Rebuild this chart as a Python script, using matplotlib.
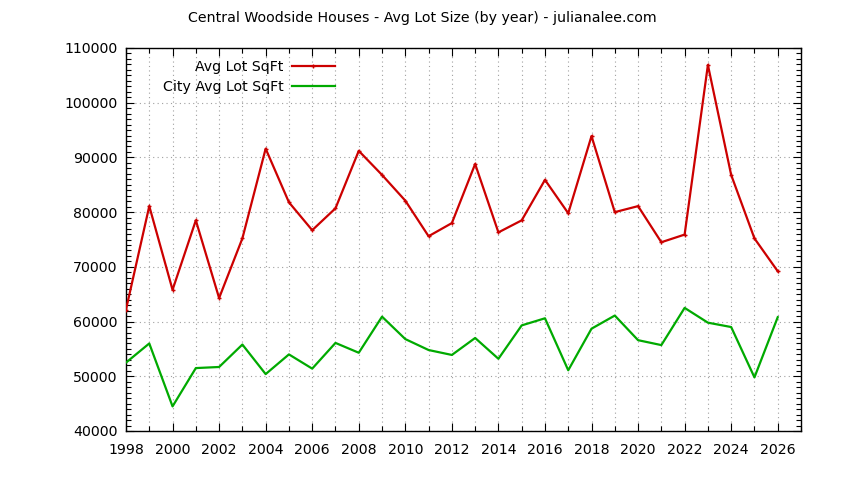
import matplotlib
matplotlib.use("Agg")
import matplotlib.pyplot as plt
from matplotlib.ticker import MultipleLocator

years = list(range(1998, 2027))
avg_lot = [62200, 81100, 65800, 78500, 64300, 75200, 91600, 81800, 76700, 80700,
           91200, 86800, 82100, 75600, 78000, 88800, 76300, 78500, 85900, 79800,
           93900, 80000, 81100, 74500, 75900, 106900, 86800, 75200, 69200]
city_avg = [52500, 56000, 44500, 51500, 51700, 55800, 50400, 54000, 51400, 56100,
            54300, 60900, 56800, 54800, 53900, 57000, 53200, 59300, 60600, 51100,
            58700, 61100, 56600, 55700, 62500, 59800, 59000, 49800, 60800]
title = "Central Woodside Houses - Avg Lot Size (by year) - julianalee.com"

plt.rcParams['font.family'] = ['DejaVu Sans']
fs = 10.2
fig = plt.figure(figsize=(8.44, 4.8), dpi=100)
ax = fig.add_axes([126/844, 1-431/480, (801-126)/844, (431-48)/480])

red = '#cc0000'
green = '#00aa00'
l1, = ax.plot(years, avg_lot, color=red, lw=1.6, marker='+', ms=3, mew=1.0,
              label='Avg Lot SqFt', zorder=3)
l2, = ax.plot(years, city_avg, color=green, lw=1.6, label='City Avg Lot SqFt', zorder=3)

ax.set_xlim(1998, 2027)
ax.set_ylim(40000, 110000)
ax.xaxis.set_major_locator(MultipleLocator(2))
ax.xaxis.set_minor_locator(MultipleLocator(1))
ax.yaxis.set_major_locator(MultipleLocator(10000))
ax.yaxis.set_minor_locator(MultipleLocator(1000))
ax.tick_params(which='both', direction='in', top=True, right=True, labelsize=fs,
               color='black', width=0.8)
ax.tick_params(which='major', length=6)
ax.tick_params(which='minor', length=3.5)
ax.tick_params(axis='x', which='major', pad=9)
ax.tick_params(axis='y', which='major', pad=6)
for s in ax.spines.values():
    s.set_linewidth(1.0)

ax.grid(which='major', axis='y', color='#a0a0a0', linestyle=(0, (1, 3)), lw=0.8)
ax.grid(which='both', axis='x', color='#a0a0a0', linestyle=(0, (1, 3)), lw=0.8)
ax.set_axisbelow(True)

fig.text(422/844, 1-18/480, title, ha='center', va='center', fontsize=fs)

leg = ax.legend(handles=[l1, l2], loc='upper left', bbox_to_anchor=(0.042, 0.992),
                markerfirst=False, frameon=False, fontsize=fs, handlelength=3.0,
                handletextpad=0.6, labelspacing=0.42, borderaxespad=0.2)
for t in leg.get_texts():
    t.set_ha('right')
leg._legend_box.align = 'right'

fig.savefig('out.png', dpi=100)
